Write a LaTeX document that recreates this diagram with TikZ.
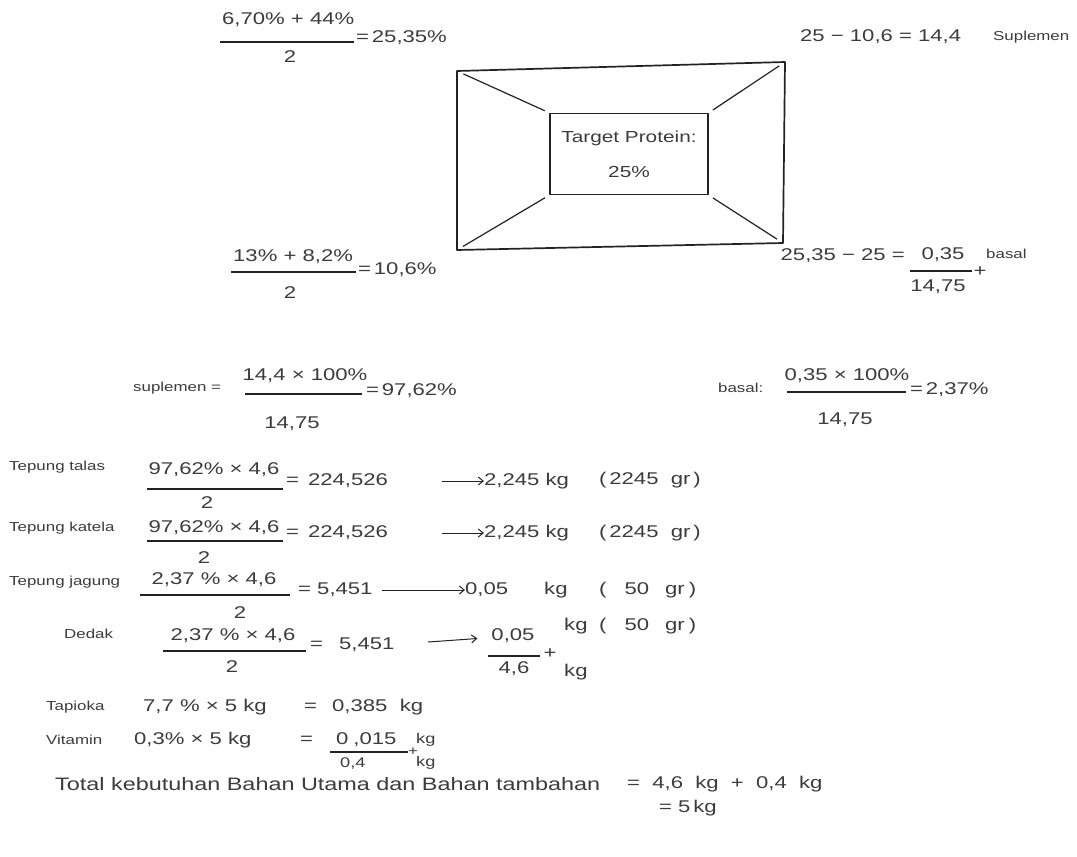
\documentclass[tikz,border=0pt]{standalone}
\usepackage{fontspec}
\setmainfont[FakeStretch=1.3]{Liberation Sans}
\usepackage{tikz}
\usetikzlibrary{positioning,arrows.meta}
\definecolor{pencil}{RGB}{35,35,35}
\definecolor{lead}{RGB}{60,60,60}

\begin{document}
\begin{tikzpicture}[x=1pt,y=-1pt,
  txt/.style={inner sep=0pt,text=lead,font=\fontsize{17}{20}\selectfont},
  lbl/.style={txt,font=\fontsize{13}{16}\selectfont},
  num/.style={txt,anchor=west},
  word/.style={lbl,anchor=west},
  small/.style={num,font=\fontsize{14}{16}\selectfont},
  bar/.style={draw=pencil,line width=1.1pt},
  box/.style={draw=pencil,line width=1.7pt,line join=round},
  arr/.style={draw=pencil,line width=1pt,-{Straight Barb[length=5pt,width=8pt]}},
  diag/.style={draw=pencil,line width=1.2pt,shorten <=7pt,shorten >=5pt}]
  \path[fill=white,use as bounding box] (0,0) rectangle (1077,857);
  % supplement average (top left)
  \node[num] (supN) at (222,20) {6,70\% + 44\%};
  \draw[bar] (220,42) -- (354,42);
  \node[txt] (supD) at (290,57) {2};
  \node[num] (supR) at (356,38) {=\,25,35\%};
  % supplement part (top right)
  \node[num] (gapS) at (800,37) {25 − 10,6 = 14,4};
  \node[word] (gapSt) at (993,37) {Suplemen};
  % Pearson square
  \coordinate (sqNW) at (457,71);
  \coordinate (sqNE) at (785,62);
  \coordinate (sqSE) at (783,243);
  \coordinate (sqSW) at (457,250);
  \draw[box] (sqNW) -- (sqNE) -- (sqSE) -- (sqSW) -- cycle;
  \node[box,line width=1.4pt,minimum width=158pt,minimum height=81pt,
        align=center,text=lead,font=\fontsize{16}{35}\selectfont] (tgt) at (629,154)
        {Target Protein:\\25\%};
  \draw[diag] (sqNW) -- (tgt.north west);
  \draw[diag] (sqNE) -- (tgt.north east);
  \draw[diag] (sqSW) -- (tgt.south west);
  \draw[diag] (sqSE) -- (tgt.south east);
  % basal average (left)
  \node[num] (basN) at (233,257) {13\% + 8,2\%};
  \draw[bar] (231,272) -- (356,272);
  \node[txt] (basD) at (290,293) {2};
  \node[num] (basR) at (358,270) {=\,10,6\%};
  % basal part (right)
  \node[txt,anchor=east] (gapB) at (905,256) {25,35 − 25 =};
  \node[txt] (gapBn) at (943,255) {0,35};
  \draw[bar] (910,271) -- (972,271);
  \node[txt] (gapBd) at (938,287) {14,75};
  \node[txt] (gapBp) at (980,272) {+};
  \node[word] (gapBt) at (986,254) {basal};
  % shares
  \node[word] (supL) at (133,388) {suplemen =};
  \node[txt] (supSn) at (305,376) {14,4 × 100\%};
  \draw[bar] (245,394) -- (362,394);
  \node[txt] (supSd) at (292,424) {14,75};
  \node[num] (supSr) at (366,391) {=\,97,62\%};
  \node[word] (basL) at (718,388) {basal:};
  \node[txt] (basSn) at (847,376) {0,35 × 100\%};
  \draw[bar] (787,392) -- (906,392);
  \node[txt] (basSd) at (845,420) {14,75};
  \node[num] (basSr) at (910,390) {=\,2,37\%};
  % Tepung talas
  \node[word] (talasL) at (9,467) {Tepung talas};
  \node[txt] (talasN) at (214,470) {97,62\% × 4,6};
  \draw[bar] (147,489) -- (283,489);
  \node[txt] (talasD) at (207,503) {2};
  \node[num] (talasV) at (286,481) {= \,224,526};
  \coordinate (talasA) at (442,481);
  \node[num] (talasKg) at (484,481) {2,245 kg};
  \node[num] (talasGr) at (599,480) {(\,2245\ \ gr\,)};
  \draw[arr] (talasA) -- (talasKg);
  % Tepung katela
  \node[word] (katelaL) at (9,528) {Tepung katela};
  \node[txt] (katelaN) at (214,528) {97,62\% × 4,6};
  \draw[bar] (147,541) -- (283,541);
  \node[txt] (katelaD) at (204,558) {2};
  \node[num] (katelaV) at (286,533) {= \,224,526};
  \coordinate (katelaA) at (442,533);
  \node[num] (katelaKg) at (484,533) {2,245 kg};
  \node[num] (katelaGr) at (599,533) {(\,2245\ \ gr\,)};
  \draw[arr] (katelaA) -- (katelaKg);
  % Tepung jagung
  \node[word] (jagungL) at (9,582) {Tepung jagung};
  \node[txt] (jagungN) at (214,580) {2,37 \% × 4,6};
  \draw[bar] (140,595) -- (290,595);
  \node[txt] (jagungD) at (240,613) {2};
  \node[num] (jagungV) at (298,590) {= 5,451};
  \coordinate (jagungA) at (382,590);
  \node[num] (jagungKg) at (465,590) {0,05};
  \node[num] (jagungU) at (544,590) {kg};
  \node[num] (jagungGr) at (599,590) {(\hspace{18pt}50\hspace{16pt}gr\hspace{4pt})};
  \draw[arr] (jagungA) -- (jagungKg);
  % Dedak
  \node[word] (dedakL) at (64,634) {Dedak};
  \node[txt] (dedakN) at (233,636) {2,37 \% × 4,6};
  \draw[bar] (163,651) -- (306,651);
  \node[txt] (dedakD) at (232,667) {2};
  \node[num] (dedakV) at (310,645) {=\hspace{16pt}5,451};
  \coordinate (dedakA) at (428,642);
  \node[txt] (dedakFn) at (513,636) {0,05};
  \draw[bar] (488,656) -- (540,656);
  \node[txt] (dedakFd) at (514,669) {4,6};
  \node[txt] (dedakP) at (550,654) {+};
  \node[num] (dedakKg) at (564,626) {kg};
  \node[num] (dedakGr) at (599,626) {(\hspace{18pt}50\hspace{16pt}gr\hspace{4pt})};
  \node[num] (dedakKg2) at (564,672) {kg};
  \draw[arr,shorten >=14pt] (dedakA) -- (dedakFn);
  % Tapioka
  \node[word] (tapL) at (46,707) {Tapioka};
  \node[num] (tapV) at (143,707) {7,7 \% × 5 kg};
  \node[num] (tapE) at (304,707) {=};
  \node[num] (tapR) at (332,707) {0,385\ \ kg};
  % Vitamin
  \node[word] (vitL) at (46,740) {Vitamin};
  \node[num] (vitV) at (134,740) {0,3\% × 5 kg};
  \node[num] (vitE) at (300,740) {=};
  \node[num] (vitR) at (336,740) {0\hspace{5pt},015};
  \node[small] (vitRu) at (416,740) {kg};
  \draw[bar] (330,752) -- (408,752);
  \node[txt,font=\fontsize{13}{16}\selectfont] (vitP) at (413,752) {+};
  \node[small] (vitS) at (340,763) {0,4};
  \node[small] (vitSu) at (416,763) {kg};
  % total
  \node[txt,anchor=west,font=\fontsize{18}{20}\selectfont] (totL) at (55,784)
       {Total kebutuhan Bahan Utama dan Bahan tambahan};
  \node[num] (totV) at (627,784) {=\ \ 4,6\ \ kg\ \ +\ \ 0,4\ \ kg};
  \node[num] (totR) at (659,808) {= 5\,kg};
\end{tikzpicture}
\end{document}
